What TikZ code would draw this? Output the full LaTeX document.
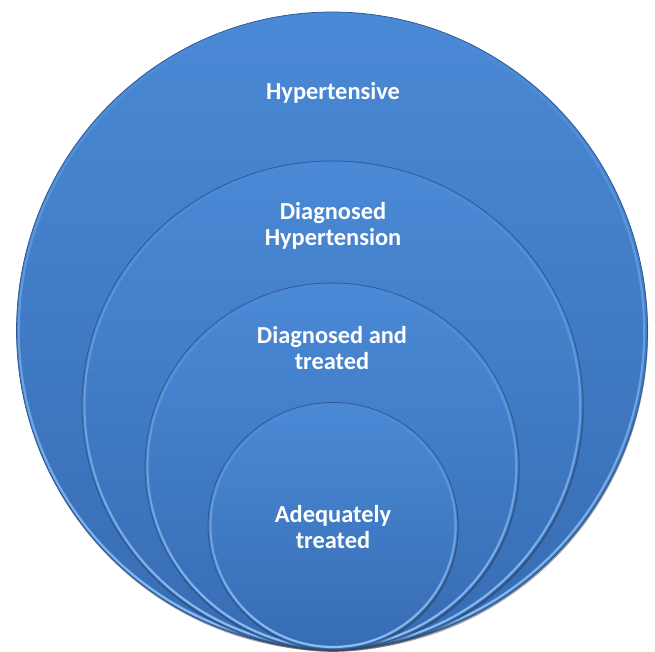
\documentclass[tikz,border=0pt]{standalone}
\usepackage{fontspec}
\setmainfont{Carlito}
\usetikzlibrary{shapes.geometric,shadows,fadings}
\definecolor{topblue}{HTML}{4A89D6}
\definecolor{botblue}{HTML}{376CB3}
\definecolor{edgeblue}{HTML}{2A5591}
\definecolor{hiblue}{HTML}{8CC0F6}
\begin{document}
\begin{tikzpicture}[x=1pt,y=-1pt,
  ring/.style={ellipse, inner sep=0pt, draw=edgeblue, line width=0.7pt,
    top color=topblue, bottom color=botblue,
    drop shadow={shadow xshift=0.6pt, shadow yshift=-1.8pt, opacity=0.45, fill=black!80}},
  shine/.style={ellipse, inner sep=0pt, draw=hiblue, line width=2.2pt, path fading=north},
  lbl/.style={text=white, font=\bfseries\fontsize{24.4}{25.5}\selectfont, align=center}]
\useasboundingbox (0,0) rectangle (655,652);
% rings
\node[ring, minimum width=631pt, minimum height=637pt] (c1) at (332,330.5) {};
\node[shine, minimum width=626pt, minimum height=632pt] (s1) at (332,330.5) {};
\node[ring, minimum width=501pt, minimum height=489pt] (c2) at (332.5,405.5) {};
\node[shine, minimum width=496pt, minimum height=484pt] (s2) at (332.5,405.5) {};
\node[ring, minimum width=374pt, minimum height=367pt] (c3) at (332,466.5) {};
\node[shine, minimum width=369pt, minimum height=362pt] (s3) at (332,466.5) {};
\node[ring, minimum width=250pt, minimum height=247pt] (c4) at (333,526) {};
\node[shine, minimum width=245pt, minimum height=242pt] (s4) at (333,526) {};
% labels
\node[lbl] (t1) at (333,93) {Hypertensive};
\node[lbl] (t2) at (333,226) {Diagnosed\\Hypertension};
\node[lbl] (t3) at (332,348) {Diagnosed and\\treated};
\node[lbl] (t4) at (333,527) {Adequately\\treated};
\end{tikzpicture}
\end{document}
